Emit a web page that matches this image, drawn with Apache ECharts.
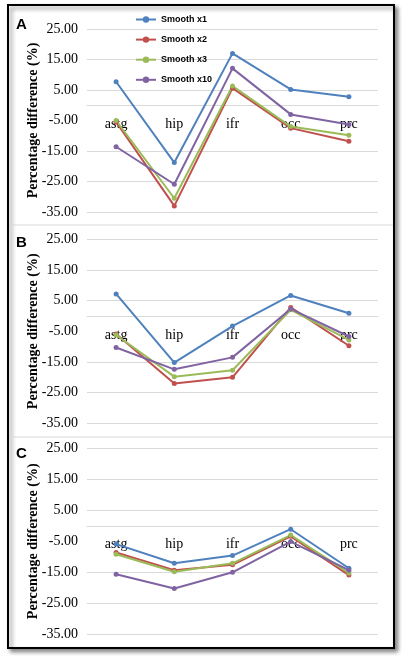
<!DOCTYPE html>
<html>
<head>
<meta charset="utf-8">
<script src="https://cdn.jsdelivr.net/npm/echarts@6/dist/echarts.min.js"></script>
<style>
html,body{margin:0;padding:0;background:#fff;}
#chart{width:408px;height:663px;}
</style>
</head>
<body>
<div id="chart"></div>
<script>
const categories = ['astg', 'hip', 'ifr', 'occ', 'prc'];
const seriesNames = ['Smooth x1', 'Smooth x2', 'Smooth x3', 'Smooth x10'];
const panelLabels = ['A', 'B', 'C'];
const yTickMin = -35, yTickMax = 25, yTickStep = 10;

// Panel A
const a_x1  = [7.7, -18.8, 17.0, 5.2, 2.8];
const a_x2  = [-5.5, -33.0, 5.6, -7.5, -11.8];
const a_x3  = [-5.0, -30.5, 6.3, -7.0, -9.8];
const a_x10 = [-13.6, -25.9, 12.1, -3.0, -6.3];
// Panel B
const b_x1  = [7.2, -15.2, -3.3, 6.7, 0.9];
const b_x2  = [-5.9, -22.0, -20.0, 2.8, -9.7];
const b_x3  = [-6.2, -19.8, -17.7, 2.0, -7.8];
const b_x10 = [-10.3, -17.4, -13.5, 2.3, -6.7];
// Panel C
const c_x1  = [-5.9, -12.1, -9.6, -1.1, -13.7];
const c_x2  = [-8.6, -14.3, -12.6, -3.4, -15.9];
const c_x3  = [-9.2, -14.8, -12.1, -3.0, -15.2];
const c_x10 = [-15.6, -20.2, -15.0, -5.1, -14.3];

const panels = [
  [a_x1, a_x2, a_x3, a_x10],
  [b_x1, b_x2, b_x3, b_x10],
  [c_x1, c_x2, c_x3, c_x10]
];
const colors = ['#4F81BD', '#C0504D', '#9BBB59', '#8064A2'];
const gridTops = [29, 239.3, 448.3];
const gridHeights = [183, 184, 186];
const labelTops = [19, 237, 448];
const separators = [225, 437];

const grids = [], xAxes = [], yAxes = [], series = [];
panels.forEach((p, i) => {
  grids.push({left: 87, width: 291, top: gridTops[i], height: gridHeights[i]});
  // category axis sits where y = 0 inside the panel
  const zeroOffset = -(0 - yTickMin) / (yTickMax - yTickMin) * gridHeights[i];
  xAxes.push({
    type: 'category', gridIndex: i, data: categories, position: 'bottom', offset: zeroOffset,
    axisLine: {onZero: false, lineStyle: {color: '#d9d9d9', width: 1}},
    axisTick: {show: false},
    axisLabel: {color: '#000', fontFamily: 'Liberation Serif', fontSize: 14, margin: 12},
    splitLine: {show: false}
  });
  yAxes.push({
    type: 'value', gridIndex: i, min: yTickMin, max: yTickMax, interval: yTickStep,
    name: 'Percentage difference (%)', nameLocation: 'middle', nameGap: 47, nameMoveOverlap: false,
    nameTextStyle: {fontFamily: 'Liberation Serif', fontWeight: 'bold', fontSize: 14, color: '#000'},
    axisLine: {show: false}, axisTick: {show: false},
    axisLabel: {color: '#000', fontFamily: 'Liberation Serif', fontSize: 14, margin: 9,
      formatter: v => v.toFixed(2)},
    splitLine: {show: true, lineStyle: {color: ['#d9d9d9', '#d9d9d9', '#d9d9d9', 'rgba(0,0,0,0)', '#d9d9d9', '#d9d9d9', '#d9d9d9'], width: 1}}
  });
  p.forEach((vals, k) => {
    series.push({
      name: seriesNames[k], type: 'line', xAxisIndex: i, yAxisIndex: i,
      data: vals, color: colors[k],
      symbol: 'circle', symbolSize: 5,
      lineStyle: {width: 2, color: colors[k]},
      itemStyle: {color: colors[k]},
      animation: false
    });
  });
});

const graphics = [
  {type: 'rect', shape: {x: 8, y: 5, width: 386, height: 643}, z: -10,
   style: {fill: '#fff', stroke: '#000', lineWidth: 2, shadowBlur: 4, shadowOffsetX: 3, shadowOffsetY: 3, shadowColor: 'rgba(0,0,0,0.45)'}},
];
separators.forEach(y => graphics.push({type: 'line', shape: {x1: 9, y1: y, x2: 393, y2: y}, z: -5, style: {stroke: '#d9d9d9', lineWidth: 1}}));
panelLabels.forEach((t, i) => graphics.push({type: 'text', left: 16, top: labelTops[i] - 2,
  style: {text: t, font: 'bold 15px "Liberation Sans"', fill: '#000'}}));

const chart = echarts.init(document.getElementById('chart'));
chart.setOption({
  animation: false,
  backgroundColor: '#fff',
  graphic: graphics,
  legend: {
    data: seriesNames, orient: 'vertical', left: 130, top: 10,
    itemWidth: 20, itemHeight: 8, itemGap: 11.1,
    textStyle: {fontFamily: '"Liberation Sans"', fontWeight: 'bold', fontSize: 9, color: '#000'}
  },
  grid: grids, xAxis: xAxes, yAxis: yAxes, series: series
});
</script>
</body>
</html>
